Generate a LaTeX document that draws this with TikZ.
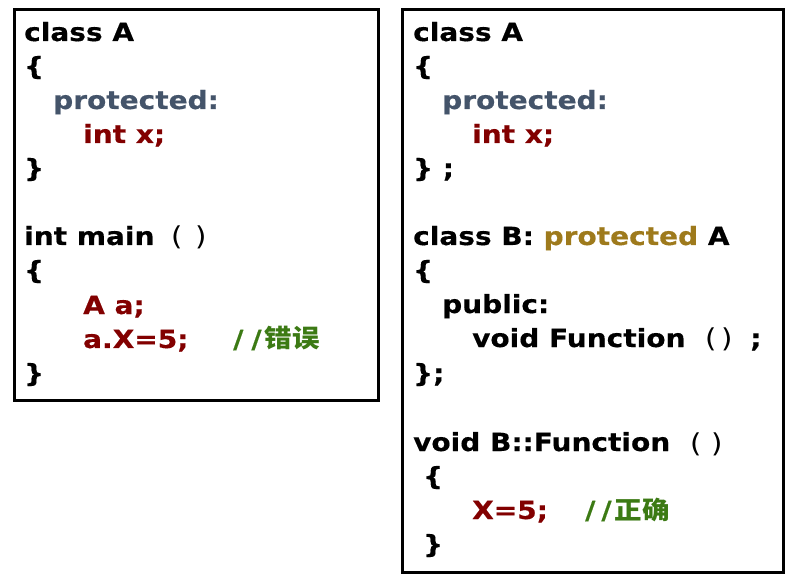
\documentclass[tikz,border=0pt]{standalone}
\usepackage{fontspec}
\setmainfont{DejaVu Sans}[FakeStretch=1.12,BoldFeatures={FakeBold=0.4}]
\newfontfamily\cjk{Noto Sans CJK SC}[FakeStretch=1.1]
\definecolor{kwblue}{HTML}{44546A}
\definecolor{dred}{HTML}{820000}
\definecolor{cgreen}{HTML}{3C7A14}
\definecolor{kwgold}{HTML}{9E7A1C}
\begin{document}
\begin{tikzpicture}[x=1pt,y=-1pt,
  box/.style={draw=black,line width=3pt},
  code/.style={anchor=base west,inner sep=0pt,font=\fontsize{25}{25}\selectfont\bfseries},
  paren/.style={anchor=base west,inner sep=0pt,font=\fontsize{26}{26}\selectfont\mdseries}]
\useasboundingbox (0,0) rectangle (793,588);
\fill[white] (0,0) rectangle (793,588);
\draw[box] (14,10) rectangle (378,400);
\draw[box] (402.5,10) rectangle (783,572);
% left box
\node[code] (l1) at (24,41) {class A};
\node[code] (l2) at (24,75) {\{};
\node[code,text=kwblue] (l3) at (53,109) {protected:};
\node[code,text=dred] (l4) at (83,143) {int x;};
\node[code] (l5) at (24,177) {\}};
\node[code] (l6) at (24,245) {int main};
\node[paren] (l6a) at (171,246) {(};
\node[paren] (l6b) at (195,246) {)};
\node[code] (l7) at (24,279) {\{};
\node[code,text=dred] (l8) at (83,314) {A a;};
\node[code,text=dred] (l9) at (83,348) {a.X=5;};
\node[code,text=cgreen] (l9c) at (233,348) {/\hspace{8pt}/\hspace{3pt}{\cjk 错误}};
\node[code] (l10) at (24,382) {\}};
% right box
\node[code] (r1) at (413,41) {class A};
\node[code] (r2) at (413,75) {\{};
\node[code,text=kwblue] (r3) at (442,109) {protected:};
\node[code,text=dred] (r4) at (472,143) {int x;};
\node[code] (r5) at (413,177) {\} ;};
\node[code] (r6) at (413,245) {class B: \textcolor{kwgold}{protected} A};
\node[code] (r7) at (413,279) {\{};
\node[code] (r8) at (442,313) {public:};
\node[code] (r9) at (472,347) {void Function};
\node[paren] (r9a) at (705,348) {(};
\node[paren] (r9b) at (721,348) {)};
\node[code] (r9c) at (750,347) {;};
\node[code] (r10) at (413,382) {\};};
\node[code] (r11) at (413,451) {void B::Function};
\node[paren] (r11a) at (690,452) {(};
\node[paren] (r11b) at (711,452) {)};
\node[code] (r12) at (423,485) {\{};
\node[code,text=dred] (r13) at (472,519) {X=5;};
\node[code,text=cgreen] (r13c) at (585,519) {/\hspace{6pt}/\hspace{3pt}{\cjk 正确}};
\node[code] (r14) at (423,553) {\}};
\end{tikzpicture}
\end{document}
